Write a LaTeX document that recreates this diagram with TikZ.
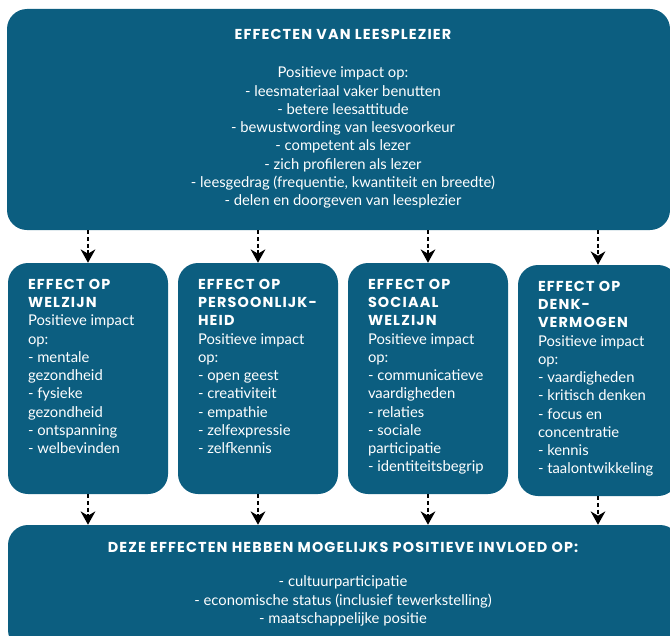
\documentclass[tikz,border=0pt]{standalone}
\usepackage{fontspec}
\setmainfont{Lato}
\newfontfamily\headfont[LetterSpace=8]{Poppins}
\newcommand{\kop}[1]{{\headfont\bfseries\fontsize{10.8}{13.7}\selectfont #1}}
\usetikzlibrary{arrows.meta}
\definecolor{leesblauw}{RGB}{12,94,128}

\begin{document}
\begin{tikzpicture}[x=0.75pt,y=-0.75pt,node distance=127.5pt]

% Define block styles
\tikzstyle{blok} = [rectangle, rounded corners=15pt, fill=leesblauw, inner sep=0pt]
\tikzstyle{vak} = [blok, minimum width=120pt, minimum height=173.25pt]
\tikzstyle{tekst} = [text=white, inner sep=0pt, font=\fontsize{11.1}{13.7}\selectfont]
\tikzstyle{pijl} = [line width=1.5pt, dash pattern=on 3pt off 2pt, -{Stealth[length=10pt,width=11pt]}]

\clip (0,0) rectangle (670,635);

% Define nodes
\node (leesplezier) [blok, minimum width=497.25pt, minimum height=165.75pt] at (338.5,119.5) {};
\node (leesplezier tekst) [tekst, align=center] at (343,119) {\kop{EFFECTEN VAN LEESPLEZIER}\\[14.8pt]
  Positieve impact op:\\
  - leesmateriaal vaker benutten\\
  - betere leesattitude\\
  - bewustwording van leesvoorkeur\\
  - competent als lezer\\
  - zich profileren als lezer\\
  - leesgedrag (frequentie, kwantiteit en breedte)\\
  - delen en doorgeven van leesplezier};

\node (welzijn) [vak] at (88,378.5) {};
\node (persoon) [vak, right of = welzijn] {};
\node (sociaal) [vak, right of = persoon] {};
\node (denken) [vak, right of = sociaal, yshift=-1.5pt] {};

\node (welzijn tekst) [tekst, align=left, anchor=north west] at ([xshift=15pt,yshift=-12pt]welzijn.north west) {\kop{EFFECT OP}\\\kop{WELZIJN}\\
  Positieve impact\\op:\\- mentale\\gezondheid\\- fysieke\\gezondheid\\- ontspanning\\- welbevinden};
\node (persoon tekst) [tekst, align=left, anchor=north west] at ([xshift=15pt,yshift=-12pt]persoon.north west) {\kop{EFFECT OP}\\\kop{PERSOONLIJK-}\\\kop{HEID}\\
  Positieve impact\\op:\\- open geest\\- creativiteit\\- empathie\\- zelfexpressie\\- zelfkennis};
\node (sociaal tekst) [tekst, align=left, anchor=north west] at ([xshift=15pt,yshift=-12pt]sociaal.north west) {\kop{EFFECT OP}\\\kop{SOCIAAL}\\\kop{WELZIJN}\\
  Positieve impact\\op:\\- communicatieve\\vaardigheden\\- relaties\\- sociale\\participatie\\- identiteitsbegrip};
\node (denken tekst) [tekst, align=left, anchor=north west] at ([xshift=15pt,yshift=-12pt]denken.north west) {\kop{EFFECT OP}\\\kop{DENK-}\\\kop{VERMOGEN}\\
  Positieve impact\\op:\\- vaardigheden\\- kritisch denken\\- focus en\\concentratie\\- kennis\\- taalontwikkeling};

\node (invloed) [blok, minimum width=504pt, minimum height=93.75pt] at (344,587.5) {};
\node (invloed tekst) [tekst, align=center] at (343,584) {\kop{DEZE EFFECTEN HEBBEN MOGELIJKS POSITIEVE INVLOED OP:}\\[12.5pt]
  - cultuurparticipatie\\
  - economische status (inclusief tewerkstelling)\\
  - maatschappelijke positie};

% Draw arrows
\draw [pijl] (welzijn.north |- leesplezier.south) -- (welzijn.north);
\draw [pijl] (persoon.north |- leesplezier.south) -- (persoon.north);
\draw [pijl] (sociaal.north |- leesplezier.south) -- (sociaal.north);
\draw [pijl] (denken.north |- leesplezier.south) -- (denken.north);

\draw [pijl] (welzijn.south) -- (welzijn.south |- invloed.north);
\draw [pijl] (persoon.south) -- (persoon.south |- invloed.north);
\draw [pijl] (sociaal.south) -- (sociaal.south |- invloed.north);
\draw [pijl] (denken.south) -- (denken.south |- invloed.north);

\end{tikzpicture}
\end{document}
